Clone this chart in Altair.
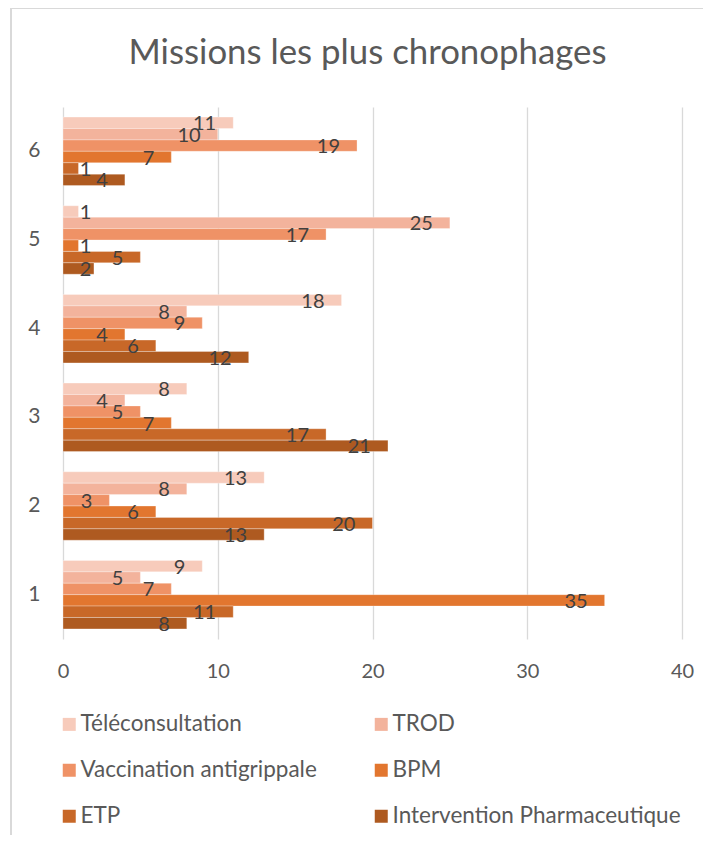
import altair as alt
import pandas as pd

groups = ["1", "2", "3", "4", "5", "6"]
series = ["Téléconsultation", "TROD", "Vaccination antigrippale", "BPM", "ETP",
          "Intervention Pharmaceutique"]
teleconsultation = [9, 13, 8, 18, 1, 11]
trod = [5, 8, 4, 8, 25, 10]
vaccination = [7, 3, 5, 9, 17, 19]
bpm = [35, 6, 7, 4, 1, 7]
etp = [11, 20, 17, 6, 5, 1]
intervention = [8, 13, 21, 12, 2, 4]
colors = ["#F7CBBB", "#F3B39C", "#EF9266", "#E2762F", "#C86828", "#AE5A20"]
x_ticks = [0, 10, 20, 30, 40]

values = [teleconsultation, trod, vaccination, bpm, etp, intervention]
rows = []
for s, vals in zip(series, values):
    for g, v in zip(groups, vals):
        rows.append({"groupe": g, "serie": s, "valeur": v})
df = pd.DataFrame(rows)

FONT = "Lato"

base = alt.Chart(df).encode(
    y=alt.Y("groupe:N", sort=list(reversed(groups)), title=None,
            scale=alt.Scale(paddingInner=0.228, paddingOuter=0.114),
            axis=alt.Axis(domain=False, ticks=False, labelPadding=23,
                          labelFontSize=21, labelFont=FONT, labelColor="#595959")),
    yOffset=alt.YOffset("serie:N", sort=series, scale=alt.Scale(paddingInner=0, paddingOuter=0)),
)

bars = base.mark_bar(stroke="#FFFFFF", strokeWidth=0.6, strokeOpacity=0.5).encode(
    x=alt.X("valeur:Q", title=None,
            scale=alt.Scale(domain=[0, 40], nice=False, zero=True),
            axis=alt.Axis(values=x_ticks, domain=False, ticks=False, grid=True,
                          gridColor="#D9D9D9", gridWidth=1.3, labelPadding=22,
                          labelFlush=False,
                          labelFontSize=20, labelFont=FONT, labelColor="#595959")),
    color=alt.Color("serie:N", sort=series,
                    scale=alt.Scale(domain=series, range=colors),
                    legend=alt.Legend(orient="none", legendX=-5, legendY=606,
                                      columns=2, direction="horizontal",
                                      title=None, symbolType="square",
                                      symbolSize=169, symbolStrokeWidth=0,
                                      labelFontSize=22.5, labelFont=FONT,
                                      labelColor="#595959", labelOffset=0,
                                      labelLimit=400, rowPadding=23,
                                      columnPadding=53, gridAlign="each",
                                      padding=0)),
)

labels = base.transform_calculate(
    lx="max(datum.valeur - 1.1, 1.1 + 0.74 * length(toString(datum.valeur)))"
).mark_text(align="right", baseline="middle", dy=1.5, fontSize=20, font=FONT,
            color="#404040").encode(
    x=alt.X("lx:Q"),
    text=alt.Text("valeur:Q"),
)

border = alt.Chart(df).mark_rule(color="#D9D9D9", strokeWidth=1.5).encode(
    x=alt.value(-52), y=alt.value(-99), y2=alt.value(740)
)
border_top = alt.Chart(df).mark_rule(color="#D9D9D9", strokeWidth=1.5).encode(
    x=alt.value(-52), x2=alt.value(660), y=alt.value(-99)
)

chart = alt.layer(bars, labels, border, border_top).properties(
    width=619, height=532,
    autosize="none",
    padding={"left": 55, "top": 99, "right": 21, "bottom": 196},
    title=alt.TitleParams("Missions les plus chronophages", fontSize=34.8,
                          font=FONT, fontWeight="normal", color="#595959",
                          anchor="middle", frame="group", baseline="alphabetic",
                          offset=-92, dx=-5),
).configure_view(stroke=None)

chart.save("out.html", embed_options={"renderer": "svg", "actions": False})
